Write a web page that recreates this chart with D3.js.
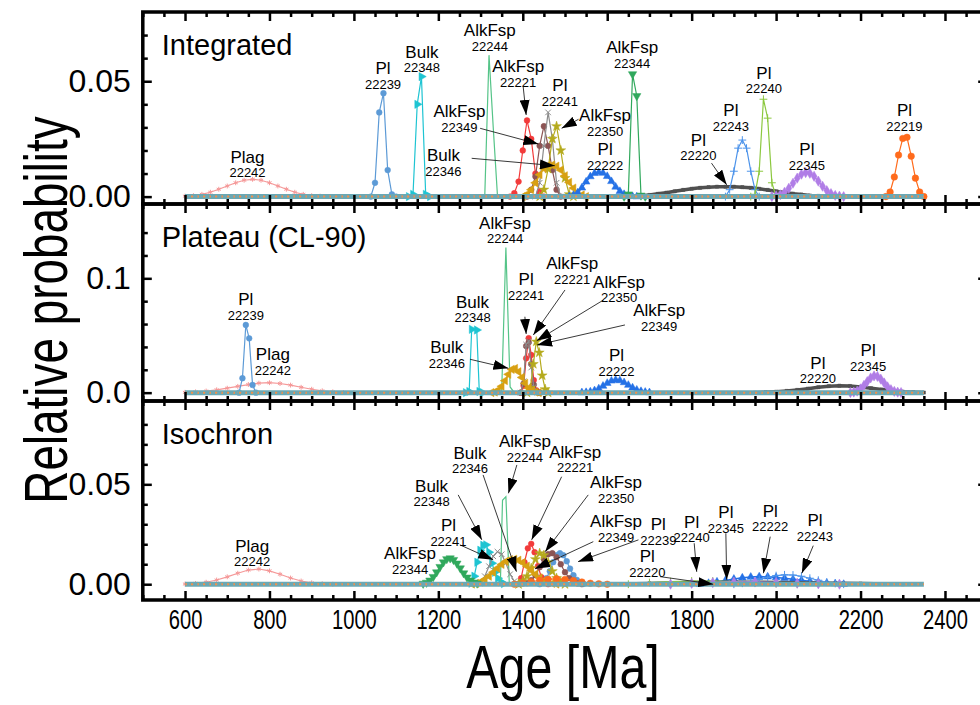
<!DOCTYPE html>
<html>
<head>
<meta charset="utf-8">
<script src="https://cdn.jsdelivr.net/npm/d3@7"></script>
<style>
body { margin: 0; background: #fff; }
svg { font-family: "Liberation Sans", Arial, sans-serif; }
</style>
</head>
<body>
<svg id="chart" width="980" height="705"></svg>
<script>
"use strict";

// ---------- data ----------
var ageTicks = [600, 800, 1000, 1200, 1400, 1600, 1800, 2000, 2200, 2400];
var baseAges = [600, 2350];   // extent of the common age grid (all series are 0 outside peaks)

var seriesIds = ["22242", "22239", "22348", "22244", "22221", "22349", "22241", "22350",
                 "22346", "22222", "22344", "22220", "22243", "22240", "22345", "22219"];

// Integrated
var int22242 = [[600,0.0002],[620,0.0004],[640,0.001],[660,0.0019],[680,0.0032],[700,0.0046],[720,0.006],[740,0.0071],[760,0.0075],[780,0.0071],[800,0.006],[820,0.0046],[840,0.0032],[860,0.0019],[880,0.001],[900,0.0004],[920,0.0002],[940,0]];
var int22239 = [[1040,0],[1050,0.006],[1060,0.0365],[1070,0.0448],[1080,0.0115],[1090,0.001],[1100,0]];
var int22348 = [[1130,0],[1140,0.001],[1150,0.040],[1160,0.052],[1170,0.001],[1180,0]];
var int22244 = [[1300,0],[1310,0.0005],[1320,0.0613],[1330,0.03],[1340,0.0005],[1350,0]];
var int22221 = [[1370,0],[1380,0.0015],[1390,0.0065],[1400,0.02],[1410,0.033],[1420,0.025],[1430,0.01],[1440,0.002],[1450,0]];
var int22349 = [[1410,0],[1420,0.003],[1430,0.0087],[1440,0.022],[1450,0.0305],[1460,0.022],[1470,0.0115],[1480,0.003],[1490,0]];
var int22241 = [[1430,0],[1440,0.006],[1450,0.022],[1460,0.0365],[1470,0.025],[1480,0.006],[1490,0]];
var int22350 = [[1440,0],[1450,0.003],[1460,0.012],[1470,0.025],[1480,0.0305],[1490,0.02],[1500,0.008],[1510,0.001],[1520,0]];
var int22346 = [[1400,0],[1410,0.001],[1420,0.003],[1430,0.006],[1440,0.0095],[1450,0.0122],[1460,0.0135],[1470,0.0137],[1480,0.0132],[1490,0.0115],[1500,0.009],[1510,0.0062],[1520,0.0037],[1530,0.0018],[1540,0.0007],[1550,0]];
var int22222 = [[1510,0.0001],[1520,0.0006],[1530,0.0017],[1540,0.0038],[1550,0.0064],[1560,0.0087],[1570,0.0101],[1580,0.0105],[1590,0.0102],[1600,0.0088],[1610,0.0066],[1620,0.0042],[1630,0.0023],[1640,0.001],[1650,0.0004],[1660,0.0001],[1670,0]];
var int22344 = [[1640,0],[1650,0.001],[1660,0.0531],[1670,0.0436],[1680,0.0005],[1690,0]];
var int22220 = [[1660,0],[1680,0.0003],[1700,0.0007],[1720,0.0012],[1740,0.0017],[1760,0.0023],[1780,0.0029],[1800,0.0034],[1820,0.0038],[1840,0.0041],[1860,0.0043],[1880,0.0043],[1900,0.0043],[1920,0.0041],[1940,0.0038],[1960,0.0034],[1980,0.0029],[2000,0.0023],[2020,0.0018],[2040,0.0013],[2060,0.0009],[2080,0.0005],[2100,0.0003],[2120,0.0001],[2140,0]];
var int22243 = [[1880,0],[1890,0.003],[1900,0.011],[1910,0.021],[1920,0.0245],[1930,0.021],[1940,0.011],[1950,0.003],[1960,0]];
var int22240 = [[1940,0],[1950,0.001],[1960,0.011],[1970,0.0422],[1980,0.034],[1990,0.006],[2000,0]];
var int22345 = [[1990,0],[2000,0.0003],[2010,0.0008],[2020,0.0019],[2030,0.0036],[2040,0.0058],[2050,0.008],[2060,0.0097],[2070,0.0104],[2080,0.0101],[2090,0.0088],[2100,0.0067],[2110,0.0045],[2120,0.0026],[2130,0.0013],[2140,0.0005],[2150,0.0002],[2160,0]];
var int22219 = [[2260,0],[2270,0.002],[2280,0.0085],[2290,0.018],[2300,0.0252],[2310,0.0257],[2320,0.0175],[2330,0.008],[2340,0.002],[2350,0]];

// Plateau (CL-90)
var pla22242 = [[600,0.0003],[625,0.0007],[650,0.0014],[675,0.0025],[700,0.0039],[725,0.0055],[750,0.0071],[775,0.0083],[800,0.0087],[825,0.008],[850,0.0066],[875,0.0047],[900,0.003],[925,0.0016],[950,0.0007],[975,0.0002],[1000,0]];
var pla22239 = [[728,0],[736,0.0126],[744,0.0592],[752,0.0475],[760,0.0067],[768,0]];
var pla22348 = [[1265,0],[1273,0.001],[1279,0.0554],[1291,0.0548],[1297,0.001],[1305,0]];
var pla22244 = [[1340,0],[1350,0.001],[1360,0.127],[1370,0.005],[1380,0]];
var pla22221 = [[1395,0],[1402,0.006],[1408,0.03],[1414,0.0476],[1420,0.033],[1426,0.011],[1432,0.002],[1440,0]];
var pla22349 = [[1395,0],[1402,0.008],[1408,0.0408],[1414,0.044],[1420,0.025],[1426,0.007],[1432,0.001],[1440,0]];
var pla22241 = [[1395,0],[1402,0.01],[1408,0.042],[1414,0.045],[1420,0.022],[1426,0.005],[1435,0]];
var pla22350 = [[1410,0],[1418,0.004],[1425,0.025],[1432,0.0446],[1439,0.035],[1446,0.015],[1453,0.003],[1460,0]];
var pla22346 = [[1326,0.0001],[1334,0.0006],[1342,0.0022],[1350,0.0055],[1358,0.0105],[1366,0.016],[1374,0.0203],[1382,0.0211],[1390,0.0183],[1398,0.0133],[1406,0.0082],[1414,0.0041],[1422,0.0017],[1430,0.0005],[1438,0.0001]];
var pla22222 = [[1540,0.0001],[1550,0.0003],[1560,0.0008],[1570,0.0018],[1580,0.0035],[1590,0.0058],[1600,0.0083],[1610,0.0103],[1620,0.0111],[1630,0.0106],[1640,0.0089],[1650,0.0066],[1660,0.0043],[1670,0.0024],[1680,0.0012],[1690,0.0005],[1700,0.0001]];
var pla22220 = [[1950,0],[1975,0.0003],[2000,0.0008],[2025,0.0015],[2050,0.0024],[2075,0.0035],[2100,0.0047],[2125,0.0057],[2150,0.0061],[2175,0.0058],[2200,0.005],[2225,0.0039],[2250,0.0027],[2275,0.0017],[2300,0.0009],[2325,0.0004],[2350,0.0001]];
var pla22345 = [[2176,0.0001],[2184,0.0005],[2192,0.0013],[2200,0.0033],[2208,0.0063],[2216,0.0097],[2224,0.0129],[2232,0.0146],[2240,0.0142],[2248,0.0118],[2256,0.0085],[2264,0.0051],[2272,0.0026],[2280,0.0011],[2288,0.0004],[2296,0.0001]];

// Isochron
var iso22242 = [[600,0.0001],[625,0.0004],[650,0.001],[675,0.0021],[700,0.0037],[725,0.0055],[750,0.0071],[775,0.0076],[800,0.0067],[825,0.005],[850,0.0031],[875,0.0016],[900,0.0007],[925,0.0002],[950,0]];
var iso22344 = [[1164,0.0003],[1172,0.0008],[1180,0.0019],[1188,0.0037],[1196,0.006],[1204,0.0087],[1212,0.011],[1220,0.0126],[1228,0.013],[1236,0.0122],[1244,0.0104],[1252,0.008],[1260,0.0055],[1268,0.0034],[1276,0.0019],[1284,0.0009],[1292,0.0004]];
var iso22348 = [[1278,0.0005],[1285,0.004],[1292,0.011],[1299,0.017],[1306,0.0195],[1313,0.0197],[1320,0.016],[1327,0.0105],[1334,0.006],[1341,0.003],[1348,0.0012],[1355,0.0003]];
var iso22241 = [[1290,0],[1300,0.001],[1310,0.004],[1320,0.009],[1330,0.014],[1340,0.0163],[1350,0.015],[1360,0.0105],[1370,0.005],[1380,0.0015],[1390,0]];
var iso22244 = [[1340,0],[1347,0.001],[1352,0.042],[1360,0.0438],[1368,0.001],[1375,0]];
var iso22346 = [[1280,0.0001],[1290,0.0004],[1300,0.0011],[1310,0.0023],[1320,0.004],[1330,0.006],[1340,0.008],[1350,0.0099],[1360,0.0114],[1370,0.0123],[1380,0.0125],[1390,0.012],[1400,0.0108],[1410,0.009],[1420,0.007],[1430,0.005],[1440,0.0032],[1450,0.0018],[1460,0.0009],[1470,0.0004],[1480,0.0001]];
var iso22221 = [[1388,0],[1396,0.003],[1404,0.011],[1412,0.018],[1420,0.0202],[1428,0.016],[1436,0.009],[1444,0.0035],[1452,0.001],[1460,0]];
var iso22350 = [[1390,0],[1400,0.0015],[1410,0.004],[1420,0.008],[1430,0.0125],[1440,0.0155],[1450,0.0145],[1460,0.011],[1470,0.0065],[1480,0.003],[1490,0.001],[1500,0]];
var iso22349 = [[1410,0.0005],[1420,0.002],[1430,0.0045],[1440,0.0085],[1450,0.0125],[1460,0.015],[1470,0.0155],[1480,0.0135],[1490,0.01],[1500,0.006],[1510,0.003],[1520,0.0012],[1530,0.0004],[1540,0]];
var iso22239 = [[1440,0],[1448,0.001],[1456,0.003],[1464,0.0065],[1472,0.011],[1480,0.0145],[1488,0.0155],[1496,0.0145],[1504,0.0115],[1512,0.0078],[1520,0.0045],[1528,0.0022],[1536,0.0009],[1544,0.0002]];
var iso22219 = [[1380,0],[1400,0.0005],[1420,0.0012],[1440,0.002],[1460,0.0025],[1480,0.0027],[1500,0.0024],[1520,0.0018],[1540,0.0011],[1560,0.0005],[1580,0.0002],[1600,0]];
var iso22222 = [[1820,0],[1840,0.0005],[1860,0.0012],[1880,0.0019],[1900,0.0026],[1920,0.0032],[1940,0.0036],[1960,0.0038],[1980,0.0037],[2000,0.0034],[2020,0.003],[2040,0.0025],[2060,0.002],[2080,0.0015],[2100,0.001],[2120,0.0006],[2140,0.0003],[2160,0]];
var iso22243 = [[1900,0],[1920,0.0005],[1940,0.0013],[1960,0.0024],[1980,0.0035],[2000,0.0043],[2020,0.0047],[2040,0.0046],[2060,0.004],[2080,0.003],[2100,0.002],[2120,0.001],[2140,0.0004],[2160,0]];
var iso22240 = [[1650,0],[1700,0.0008],[1750,0.0013],[1800,0.0016],[1850,0.0016],[1900,0.0013],[1950,0.0008],[2000,0.0003],[2050,0]];
var iso22345 = [[1750,0],[1800,0.0004],[1850,0.0008],[1900,0.0011],[1950,0.0011],[2000,0.0009],[2050,0.0005],[2100,0.0002],[2150,0]];
var iso22220 = [[1600,0],[1700,0.0004],[1800,0.0008],[1900,0.001],[2000,0.0009],[2100,0.0006],[2200,0.0003],[2300,0]];

// same order as seriesIds (null = peak not shown in that panel)
var intSeries = [int22242, int22239, int22348, int22244, int22221, int22349, int22241, int22350,
                 int22346, int22222, int22344, int22220, int22243, int22240, int22345, int22219];
var plaSeries = [pla22242, pla22239, pla22348, pla22244, pla22221, pla22349, pla22241, pla22350,
                 pla22346, pla22222, null, pla22220, null, null, pla22345, null];
var isoSeries = [iso22242, iso22239, iso22348, iso22244, iso22221, iso22349, iso22241, iso22350,
                 iso22346, iso22222, iso22344, iso22220, iso22243, iso22240, iso22345, iso22219];

// labels: mineral, sample, age, probability (centre of the mineral name)
var intLabels = [
  ["Plag","22242",748,0.0173], ["Pl","22239",1069,0.0556], ["Bulk","22348",1161,0.0628],
  ["AlkFsp","22244",1322,0.0722], ["AlkFsp","22221",1389,0.0566], ["AlkFsp","22349",1250,0.0371],
  ["Bulk","22346",1212,0.0181], ["Pl","22241",1488,0.0484], ["AlkFsp","22350",1595,0.0354],
  ["Pl","22222",1595,0.0205], ["AlkFsp","22344",1659,0.0649], ["Pl","22220",1816,0.0248],
  ["Pl","22243",1893,0.0375], ["Pl","22240",1971,0.0537], ["Pl","22345",2073,0.0205],
  ["Pl","22219",2304,0.0375]
];
var plaLabels = [
  ["Pl","22239",744,0.0816], ["Plag","22242",808,0.0338], ["Bulk","22348",1281,0.0795],
  ["Bulk","22346",1220,0.0397], ["AlkFsp","22244",1358,0.1486], ["Pl","22241",1408,0.0991],
  ["AlkFsp","22221",1517,0.1131], ["AlkFsp","22350",1628,0.097], ["AlkFsp","22349",1723,0.0723],
  ["Pl","22222",1622,0.033], ["Pl","22220",2099,0.0262], ["Pl","22345",2218,0.0373]
];
var isoLabels = [
  ["Plag","22242",759,0.0193], ["AlkFsp","22344",1133,0.0155], ["Pl","22241",1224,0.0297],
  ["Bulk","22348",1184,0.0493], ["Bulk","22346",1275,0.0658], ["AlkFsp","22244",1405,0.0717],
  ["AlkFsp","22221",1524,0.0663], ["AlkFsp","22350",1621,0.051], ["AlkFsp","22349",1621,0.0317],
  ["Pl","22239",1721,0.0302], ["Pl","22240",1800,0.0313], ["Pl","22345",1881,0.036],
  ["Pl","22222",1986,0.0368], ["Pl","22243",2092,0.0322], ["Pl","22220",1695,0.0142]
];

// arrows: from (age, p) to (age, p)
var intArrows = [[1401,0.0476,1408,0.0354], [1299,0.0296,1437,0.0228], [1279,0.0166,1476,0.0134],
                 [1532,0.0335,1492,0.0296], [1847,0.0145,1883,0.0051]];
var plaArrows = [[1275,0.0292,1366,0.0213], [1405,0.0664,1408,0.0513], [1500,0.0898,1425,0.0504],
                 [1591,0.081,1433,0.0455], [1642,0.0592,1434,0.0417]];
var isoArrows = [[1247,0.0447,1303,0.0222], [1251,0.0197,1330,0.0122], [1306,0.0547,1385,0.0063],
                 [1386,0.0597,1366,0.0455], [1492,0.0538,1421,0.0222], [1555,0.0447,1453,0.0163],
                 [1567,0.0213,1429,0.0077], [1674,0.0222,1531,0.0113], [1725,0.0038,1851,0.0],
                 [1806,0.0205,1812,0.0062], [1881,0.0255,1883,0.0022], [1986,0.0238,1970,0.0055],
                 [2088,0.0193,2061,0.0055]];

var intYTicks = [0, 0.05], intYMinor = [0.01, 0.02, 0.03, 0.04, 0.06, 0.07];
var plaYTicks = [0, 0.1],  plaYMinor = [0.02, 0.04, 0.06, 0.08, 0.12, 0.14];
var isoYTicks = [0, 0.05], isoYMinor = [0.01, 0.02, 0.03, 0.04, 0.06, 0.07, 0.08];

// ---------- styles ----------
var styles = {
  "22242": {color: "#f26d6d", shape: d3.symbolAsterisk, size: 16, hollow: true, lw: 1.2, op: 0.7},
  "22239": {color: "#5c9ad6", shape: d3.symbolCircle, size: 26, lw: 1.2},
  "22348": {color: "#1ec4d2", shape: d3.symbolTriangle, rot: 90, size: 30, lw: 1.2},
  "22244": {color: "#55c488", shape: null, lw: 1.2},
  "22221": {color: "#f23b3b", shape: d3.symbolCircle, size: 26, lw: 1.2},
  "22349": {color: "#8c5454", shape: d3.symbolCircle, size: 26, lw: 1.2},
  "22241": {color: "#8c8c8c", shape: d3.symbolTimes, size: 22, hollow: true, lw: 1.2},
  "22350": {color: "#b5aa1d", shape: d3.symbolStar, size: 30, lw: 1.2},
  "22346": {color: "#d8a012", shape: d3.symbolTriangle, rot: -90, size: 30, lw: 1.5},
  "22222": {color: "#2471e6", shape: d3.symbolTriangle, size: 26, lw: 1.5},
  "22344": {color: "#30a85c", shape: d3.symbolTriangle, rot: 180, size: 30, lw: 1.2},
  "22220": {color: "#505050", shape: d3.symbolSquare, size: 10, lw: 3.5},
  "22243": {color: "#4c93ea", shape: d3.symbolPlus, size: 22, hollow: true, lw: 1.2},
  "22240": {color: "#8cc83f", shape: d3.symbolPlus, size: 22, hollow: true, lw: 1.2},
  "22345": {color: "#b07de6", shape: d3.symbolDiamond, size: 30, lw: 1.5},
  "22219": {color: "#ff6b1c", shape: d3.symbolCircle, size: 34, lw: 1.2}
};

var panels = [
  {title: "Integrated", top: 12, bottom: 204, domain: [-0.0032, 0.08], ticks: intYTicks, minor: intYMinor,
   fmt: ".2f", series: intSeries, labels: intLabels, arrows: intArrows},
  {title: "Plateau (CL-90)", top: 204, bottom: 401, domain: [-0.0073, 0.165], ticks: plaYTicks, minor: plaYMinor,
   fmt: ".1f", series: plaSeries, labels: plaLabels, arrows: plaArrows},
  {title: "Isochron", top: 401, bottom: 600, domain: [-0.0079, 0.0917], ticks: isoYTicks, minor: isoYMinor,
   fmt: ".2f", series: isoSeries, labels: isoLabels, arrows: isoArrows}
];

// ---------- drawing ----------
var svg = d3.select("#chart");
var x = d3.scaleLinear().domain([500, 2500]).range([142.8, 987.2]);
var xMinor = d3.range(500, 2501, 50).filter(function(d) { return ageTicks.indexOf(d) < 0; });

var defs = svg.append("defs");
defs.append("marker").attr("id", "head")
    .attr("viewBox", "0 0 15 10").attr("refX", 15).attr("refY", 5)
    .attr("markerWidth", 15).attr("markerHeight", 10)
    .attr("markerUnits", "userSpaceOnUse").attr("orient", "auto")
  .append("path").attr("d", "M0,0L15,5L0,10Z").attr("fill", "#000");

panels.forEach(function(p, pi) {
    var y = d3.scaleLinear().domain(p.domain).range([p.bottom, p.top]);
    var g = svg.append("g");

    defs.append("clipPath").attr("id", "clip" + pi)
      .append("rect").attr("x", x.range()[0]).attr("y", p.top)
      .attr("width", x.range()[1] - x.range()[0]).attr("height", p.bottom - p.top);

    var plot = g.append("g").attr("clip-path", "url(#clip" + pi + ")");

    var line = d3.line().x(function(d) { return x(d[0]); }).y(function(d) { return y(d[1]); });

    // curves
    p.series.forEach(function(data, si) {
        if (!data) return;
        var st = styles[seriesIds[si]];
        var sg = plot.append("g").attr("opacity", st.op || 1);
        sg.append("path").datum(data).attr("d", line)
          .attr("fill", "none").attr("stroke", st.color).attr("stroke-width", st.lw);
        if (st.shape) {
            var sym = d3.symbol().type(st.shape).size(st.size);
            sg.selectAll("path.pt").data(data).enter().append("path").attr("class", "pt")
              .attr("d", sym)
              .attr("transform", function(d) {
                  return "translate(" + x(d[0]) + "," + y(d[1]) + ")" + (st.rot ? " rotate(" + st.rot + ")" : "");
              })
              .attr("fill", st.hollow ? "none" : st.color)
              .attr("stroke", st.color).attr("stroke-width", st.hollow ? 1 : 0.5);
        }
    });

    // common zero band made by all series' markers
    var band = d3.line().x(function(d) { return x(d); }).y(function() { return y(0); });
    plot.append("path").datum(baseAges).attr("d", band)
        .attr("stroke", "#6aa8b4").attr("stroke-width", 5).attr("fill", "none");
    plot.append("path").datum(baseAges).attr("d", band)
        .attr("stroke", "#f0924a").attr("stroke-width", 2).attr("stroke-dasharray", "2 4").attr("fill", "none");
    plot.append("path").datum(baseAges).attr("d", band)
        .attr("stroke", "#9a9a9a").attr("stroke-width", 1).attr("stroke-dasharray", "1 3").attr("fill", "none");

    // arrows
    g.selectAll("line.arrow").data(p.arrows).enter().append("line").attr("class", "arrow")
      .attr("x1", function(d) { return x(d[0]); }).attr("y1", function(d) { return y(d[1]); })
      .attr("x2", function(d) { return x(d[2]); }).attr("y2", function(d) { return y(d[3]); })
      .attr("stroke", "#222").attr("stroke-width", 0.9).attr("marker-end", "url(#head)");

    // labels
    var lab = g.selectAll("g.lab").data(p.labels).enter().append("g").attr("class", "lab")
      .attr("transform", function(d) { return "translate(" + x(d[2]) + "," + y(d[3]) + ")"; });
    lab.append("text").attr("text-anchor", "middle").attr("dy", "0.36em")
      .style("font-size", "17px").text(function(d) { return d[0]; });
    lab.append("text").attr("text-anchor", "middle").attr("y", 16).attr("dy", "0.36em")
      .style("font-size", "13px").text(function(d) { return d[1]; });

    // title
    g.append("text").attr("x", x.range()[0] + 19).attr("y", p.top + 43)
      .style("font-size", "29px").text(p.title);

    // axes with inward ticks
    var fmt = d3.format(p.fmt);
    var left = g.append("g").attr("transform", "translate(" + x.range()[0] + ",0)");
    left.call(d3.axisLeft(y).tickValues(p.ticks).tickSize(-9).tickPadding(12).tickFormat(fmt));
    left.append("g").call(d3.axisLeft(y).tickValues(p.minor).tickSize(-5).tickFormat(""));
    var right = g.append("g").attr("transform", "translate(" + x.range()[1] + ",0)");
    right.call(d3.axisRight(y).tickValues(p.ticks).tickSize(-9).tickFormat(""));
    right.append("g").call(d3.axisRight(y).tickValues(p.minor).tickSize(-5).tickFormat(""));

    var top = g.append("g").attr("transform", "translate(0," + p.top + ")");
    top.call(d3.axisTop(x).tickValues(ageTicks).tickSize(-9).tickFormat(""));
    top.append("g").call(d3.axisTop(x).tickValues(xMinor).tickSize(-5).tickFormat(""));
    var bottom = g.append("g").attr("class", "xb").attr("transform", "translate(0," + p.bottom + ")");
    bottom.call(d3.axisBottom(x).tickValues(ageTicks).tickSize(-9).tickPadding(9)
        .tickFormat(pi === panels.length - 1 ? d3.format("d") : ""));
    bottom.append("g").call(d3.axisBottom(x).tickValues(xMinor).tickSize(-5).tickFormat(""));

    g.selectAll(".domain").remove();
    g.selectAll(".tick line").attr("stroke", "#000").attr("stroke-width", 2.5);
    left.selectAll(".tick text").style("font-size", "32px").attr("fill", "#000");
    bottom.selectAll(".tick text").style("font-size", "28px").attr("fill", "#000")
        .attr("transform", "scale(0.72,1)");

    // frame
    g.append("rect").attr("x", x.range()[0]).attr("y", p.top)
      .attr("width", x.range()[1] - x.range()[0]).attr("height", p.bottom - p.top)
      .attr("fill", "none").attr("stroke", "#000").attr("stroke-width", 3.5);
});

// axis titles
svg.append("text").attr("transform", "translate(67,310) rotate(-90) scale(0.74,1)")
    .attr("text-anchor", "middle").style("font-size", "62px").text("Relative probability");
svg.append("text").attr("transform", "translate(563,688) scale(0.78,1)")
    .attr("text-anchor", "middle").style("font-size", "62px").text("Age [Ma]");
</script>
</body>
</html>
